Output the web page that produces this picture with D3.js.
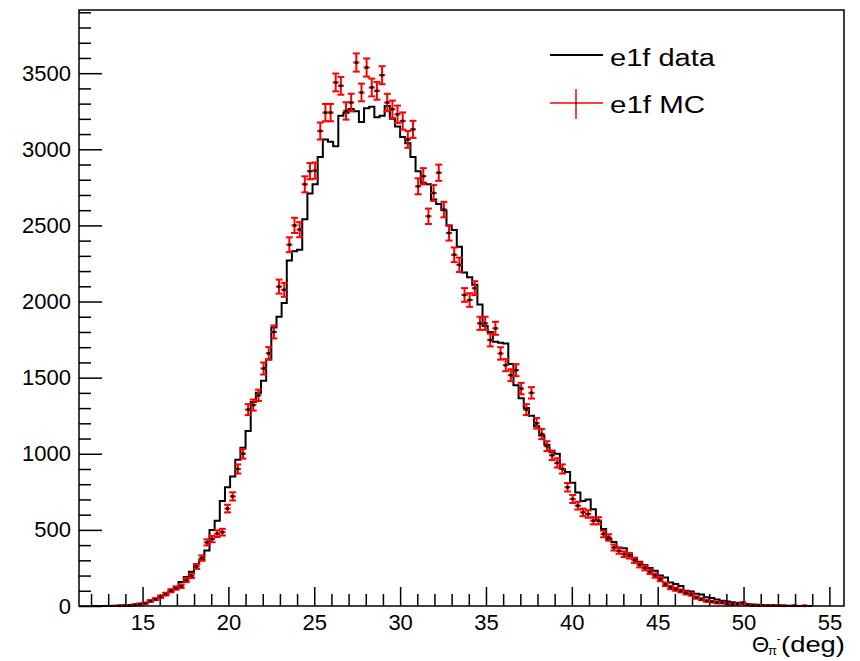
<!DOCTYPE html>
<html>
<head>
<meta charset="utf-8">
<script src="https://cdn.jsdelivr.net/npm/d3@7"></script>
<style>
  body { margin: 0; background: #fff; }
  svg { display: block; }
  text { font-family: "Liberation Sans", Arial, Helvetica, sans-serif; fill: #000; }
</style>
</head>
<body>
<svg id="chart" width="860" height="661"></svg>
<script>
// Histogram binning (degrees)
const binLow = 12.0;
const binWidth = 0.3;

// e1f data: counts per bin, starting at binLow
const dataCounts = [
  0, 0, 0, 0, 1, 2, 4, 6, 9, 14,
  20, 30, 42, 58, 72, 95, 115, 158, 190, 225,
  275, 300, 365, 500, 560, 690, 780, 850, 960, 1040,
  1150, 1340, 1400, 1480, 1620, 1830, 1900, 1990, 2270, 2330,
  2340, 2540, 2710, 2770, 2950, 3065, 3050, 3020, 3220, 3240,
  3265, 3250, 3180, 3270, 3280, 3210, 3220, 3285, 3200, 3150,
  3080, 3040, 2950, 2855, 2780, 2770, 2670, 2640, 2600, 2500,
  2470, 2360, 2190, 2160, 2110, 1980, 1840, 1800, 1735, 1730,
  1725, 1590, 1450, 1365, 1300, 1250, 1180, 1120, 1060, 1010,
  1000, 900, 880, 810, 745, 690, 700, 635, 560, 505,
  440, 420, 385, 380, 340, 310, 290, 270, 250, 231,
  200, 187, 154, 145, 132, 100, 95, 80, 75, 58,
  52, 42, 35, 30, 25, 22, 16, 12, 10, 8,
  6, 5, 4, 3, 2, 1, 1, 0, 0, 0
];

// e1f MC: counts per bin, same binning
const mcCounts = [
  0, 0, 0, 0, 0, 1, 2, 4, 8, 12,
  18, 33, 45, 60, 78, 100, 118, 130, 170, 198,
  260, 315, 418, 440, 475, 485, 640, 720, 900, 1000,
  1290, 1320, 1384, 1560, 1660, 1800, 2098, 2077, 2373, 2500,
  2472, 2770, 2856, 2860, 3120, 3241, 3241, 3439, 3417, 3252,
  3307, 3570, 3373, 3537, 3406, 3384, 3487, 3307, 3263, 3230,
  3186, 3065, 3131, 2757, 2823, 2560, 2713, 2846, 2604, 2450,
  2307, 2241, 2043, 2010, 2088, 1857, 1857, 1747, 1824, 1659,
  1582, 1516, 1549, 1428, 1290, 1400, 1200, 1130, 1050, 990,
  940, 900, 780, 703, 659, 615, 604, 560, 560, 473,
  450, 384, 362, 340, 330, 300, 270, 250, 225, 200,
  176, 143, 121, 110, 99, 85, 77, 55, 45, 33,
  28, 22, 22, 15, 11, 14, 20, 8, 5, 3,
  4, 2, 3, 2, 1, 0, 1, 0, 1, 0
];

const xMajorTicks = [15, 20, 25, 30, 35, 40, 45, 50, 55];
const xMinorTicks = [12, 13, 14, 16, 17, 18, 19, 21, 22, 23, 24, 26, 27, 28, 29,
  31, 32, 33, 34, 36, 37, 38, 39, 41, 42, 43, 44, 46, 47, 48, 49, 51, 52, 53, 54];
const yMajorTicks = [0, 500, 1000, 1500, 2000, 2500, 3000, 3500];
const yMinorTicks = d3.range(100, 3901, 100).filter(v => v % 500 !== 0);

const legendLabels = ["e1f data", "e1f MC"];

// ---- layout ----
const frame = { left: 79, right: 844, top: 10, bottom: 606 };
const svg = d3.select("#chart");

const x = d3.scaleLinear().domain([11.3, 55.85]).range([frame.left, frame.right]);
const y = d3.scaleLinear().domain([0, 3915]).range([frame.bottom, frame.top]);

const bins = dataCounts.map((v, i) => ({
  lo: binLow + i * binWidth,
  hi: binLow + (i + 1) * binWidth,
  data: v,
  mc: mcCounts[i]
}));

// ---- axes ----
const fontSize = 22;

const xAxisMinor = d3.axisBottom(x).tickValues(xMinorTicks)
  .tickSizeInner(-12).tickSizeOuter(0).tickFormat("");
const xAxisMajor = d3.axisBottom(x).tickValues(xMajorTicks)
  .tickSizeInner(-19).tickSizeOuter(0).tickPadding(8.5).tickFormat(d3.format("d"));

const yAxisMinor = d3.axisLeft(y).tickValues(yMinorTicks)
  .tickSizeInner(-12).tickSizeOuter(0).tickFormat("");
const yAxisMajor = d3.axisLeft(y).tickValues(yMajorTicks)
  .tickSizeInner(-23).tickSizeOuter(0).tickPadding(8).tickFormat(d3.format("d"));

function styleAxis(g) {
  g.select(".domain").remove();
  g.selectAll(".tick line").attr("stroke", "#000").attr("stroke-width", 1.5);
  g.selectAll(".tick text")
    .attr("font-size", fontSize)
    .attr("font-family", "'Liberation Sans', Arial, sans-serif")
    .attr("fill", "#000");
}

svg.append("g").attr("transform", `translate(0,${frame.bottom})`).call(xAxisMinor).call(styleAxis);
svg.append("g").attr("transform", `translate(0,${frame.bottom})`).call(xAxisMajor).call(styleAxis);
svg.append("g").attr("transform", `translate(${frame.left},0)`).call(yAxisMinor).call(styleAxis);
svg.append("g").attr("transform", `translate(${frame.left},0)`).call(yAxisMajor).call(styleAxis);

// ---- data histogram (step outline) ----
const stepPts = [];
stepPts.push([x(bins[0].lo), y(0)]);
bins.forEach(b => {
  stepPts.push([x(b.lo), y(b.data)]);
  stepPts.push([x(b.hi), y(b.data)]);
});
stepPts.push([x(bins[bins.length - 1].hi), y(0)]);

svg.append("path")
  .attr("d", d3.line()(stepPts))
  .attr("fill", "none")
  .attr("stroke", "#000")
  .attr("stroke-width", 2)
  .attr("stroke-linejoin", "miter");

// ---- MC points with error bars ----
const capHalf = 3.5;
const mcG = svg.append("g");
const mcPts = bins.filter(b => b.mc > 0);
mcPts.forEach(b => {
  const err = Math.sqrt(b.mc);
  const cx = x((b.lo + b.hi) / 2);
  const cy = y(b.mc);
  const y1 = y(b.mc + err), y0 = y(Math.max(0, b.mc - err));
  const g = mcG.append("g").attr("stroke", "#ff0000").attr("stroke-width", 2);
  g.append("line").attr("x1", x(b.lo) - 0.5).attr("x2", x(b.hi) + 0.5).attr("y1", cy).attr("y2", cy);
  g.append("line").attr("x1", cx).attr("x2", cx).attr("y1", y1).attr("y2", y0);
  g.append("line").attr("x1", cx - capHalf).attr("x2", cx + capHalf).attr("y1", y1).attr("y2", y1);
  g.append("line").attr("x1", cx - capHalf).attr("x2", cx + capHalf).attr("y1", y0).attr("y2", y0);
});
mcG.selectAll("rect.marker").data(mcPts).join("rect")
  .attr("class", "marker")
  .attr("x", b => x((b.lo + b.hi) / 2) - 1.5)
  .attr("y", b => y(b.mc) - 1.25)
  .attr("width", 3).attr("height", 2.5)
  .attr("fill", "#000");

// ---- frame ----
svg.append("rect")
  .attr("x", frame.left).attr("y", frame.top)
  .attr("width", frame.right - frame.left).attr("height", frame.bottom - frame.top)
  .attr("fill", "none").attr("stroke", "#000").attr("stroke-width", 1.5);

// ---- legend ----
const leg = svg.append("g");
leg.append("line").attr("x1", 550).attr("x2", 603).attr("y1", 55).attr("y2", 55)
  .attr("stroke", "#000").attr("stroke-width", 2);
leg.append("text").attr("x", 610).attr("y", 66).attr("font-size", 23)
  .attr("textLength", 105).attr("lengthAdjust", "spacingAndGlyphs").text(legendLabels[0]);

leg.append("line").attr("x1", 550).attr("x2", 603).attr("y1", 103).attr("y2", 103)
  .attr("stroke", "#ff0000").attr("stroke-width", 1.5);
leg.append("line").attr("x1", 576).attr("x2", 576).attr("y1", 89).attr("y2", 119)
  .attr("stroke", "#ff0000").attr("stroke-width", 1.5);
leg.append("rect").attr("x", 575).attr("y", 102).attr("width", 2).attr("height", 2).attr("fill", "#000");
leg.append("text").attr("x", 610).attr("y", 113).attr("font-size", 23)
  .attr("textLength", 95).attr("lengthAdjust", "spacingAndGlyphs").text(legendLabels[1]);

// ---- x-axis title: Θ_{π^-} (deg) ----
const title = svg.append("g");
title.append("text").attr("x", 752).attr("y", 651.5).attr("font-size", 22).text("Θ");
title.append("text").attr("x", 768).attr("y", 655).attr("font-size", 13).text("π");
title.append("text").attr("x", 776.5).attr("y", 643).attr("font-size", 13).text("-");
title.append("text").attr("x", 781).attr("y", 651.5).attr("font-size", 22)
  .attr("textLength", 64).attr("lengthAdjust", "spacingAndGlyphs").text("(deg)");
</script>
</body>
</html>
